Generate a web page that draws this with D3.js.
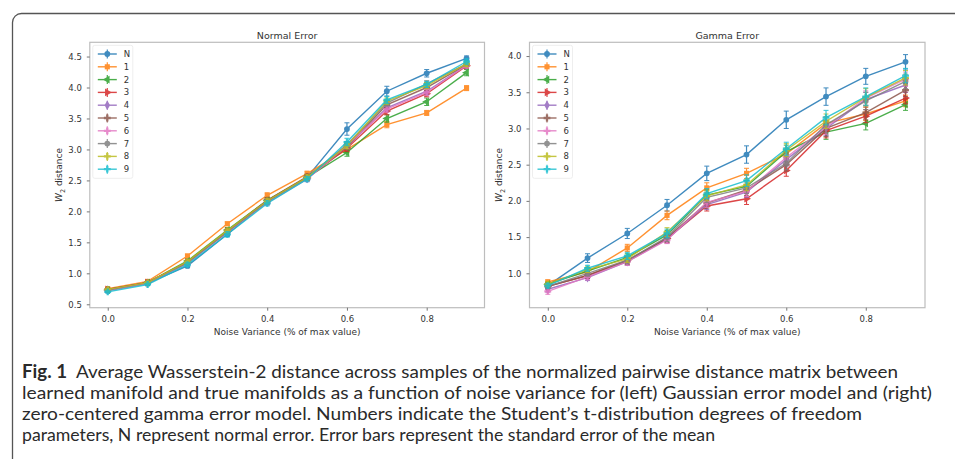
<!DOCTYPE html>
<html>
<head>
<meta charset="utf-8">
<script src="https://cdn.jsdelivr.net/npm/d3@7"></script>
<style>
  body { margin: 0; background: #fff; }
  svg { display: block; }
  .tick-label { font-family: "DejaVu Sans", sans-serif; font-size: 8.5px; fill: #333; }
  .panel-title { font-family: "DejaVu Sans", sans-serif; font-size: 9.5px; fill: #333; }
  .axis-label { font-family: "DejaVu Sans", sans-serif; font-size: 9px; fill: #333; }
  .caption { font-family: Lato, "Open Sans", sans-serif; font-size: 18px; fill: #2a2a2a; }
</style>
</head>
<body>
<div id="figure"></div>
<script>
// =============================
// Data
// =============================
const noiseLevels = [0.0, 0.1, 0.2, 0.3, 0.4, 0.5, 0.6, 0.7, 0.8, 0.9];
const seriesNames = ["N", "1", "2", "3", "4", "5", "6", "7", "8", "9"];
const xTicks = [0.0, 0.2, 0.4, 0.6, 0.8];
const normalYTicks = [0.5, 1.0, 1.5, 2.0, 2.5, 3.0, 3.5, 4.0, 4.5];
const gammaYTicks = [1.0, 1.5, 2.0, 2.5, 3.0, 3.5, 4.0];

// Normal error: mean W2 distance per series (rows follow seriesNames)
const normalMeans = [
    [0.72, 0.84, 1.12, 1.63, 2.16, 2.55, 3.33, 3.94, 4.23, 4.47], // N
    [0.75, 0.87, 1.28, 1.80, 2.26, 2.61, 3.00, 3.40, 3.59, 3.99], // 1
    [0.73, 0.85, 1.20, 1.70, 2.18, 2.55, 2.95, 3.50, 3.77, 4.24], // 2
    [0.74, 0.85, 1.18, 1.68, 2.17, 2.54, 3.02, 3.62, 3.90, 4.35], // 3
    [0.73, 0.84, 1.17, 1.67, 2.15, 2.53, 3.05, 3.67, 3.94, 4.36], // 4
    [0.74, 0.85, 1.18, 1.68, 2.18, 2.56, 3.05, 3.72, 4.00, 4.37], // 5
    [0.72, 0.84, 1.16, 1.66, 2.14, 2.52, 3.07, 3.65, 3.92, 4.36], // 6
    [0.73, 0.85, 1.17, 1.67, 2.16, 2.54, 3.08, 3.75, 4.06, 4.38], // 7
    [0.74, 0.85, 1.19, 1.69, 2.17, 2.55, 3.06, 3.78, 4.03, 4.38], // 8
    [0.70, 0.82, 1.14, 1.63, 2.13, 2.52, 3.12, 3.80, 4.05, 4.42]  // 9
];
const normalErrors = [
    [0.02, 0.03, 0.03, 0.04, 0.05, 0.05, 0.10, 0.08, 0.06, 0.04],
    [0.02, 0.02, 0.03, 0.03, 0.04, 0.04, 0.05, 0.05, 0.04, 0.04],
    [0.02, 0.02, 0.03, 0.04, 0.04, 0.04, 0.06, 0.06, 0.06, 0.05],
    [0.02, 0.02, 0.03, 0.03, 0.04, 0.04, 0.05, 0.06, 0.05, 0.04],
    [0.02, 0.02, 0.03, 0.03, 0.04, 0.04, 0.05, 0.05, 0.05, 0.04],
    [0.02, 0.02, 0.03, 0.03, 0.04, 0.04, 0.05, 0.06, 0.05, 0.04],
    [0.02, 0.02, 0.03, 0.03, 0.04, 0.04, 0.05, 0.05, 0.05, 0.04],
    [0.02, 0.02, 0.03, 0.03, 0.04, 0.04, 0.05, 0.05, 0.05, 0.04],
    [0.02, 0.02, 0.03, 0.03, 0.04, 0.04, 0.05, 0.05, 0.05, 0.04],
    [0.02, 0.02, 0.03, 0.04, 0.04, 0.04, 0.06, 0.06, 0.05, 0.04]
];

// Gamma error: mean W2 distance per series (rows follow seriesNames)
const gammaMeans = [
    [0.83, 1.21, 1.55, 1.94, 2.38, 2.64, 3.12, 3.44, 3.72, 3.92], // N
    [0.88, 1.02, 1.35, 1.80, 2.18, 2.38, 2.65, 3.07, 3.20, 3.38], // 1
    [0.85, 1.03, 1.22, 1.53, 2.08, 2.20, 2.68, 2.95, 3.07, 3.33], // 2
    [0.82, 0.97, 1.18, 1.48, 1.93, 2.03, 2.42, 2.97, 3.17, 3.42], // 3
    [0.78, 0.94, 1.16, 1.47, 1.95, 2.12, 2.57, 3.00, 3.40, 3.60], // 4
    [0.82, 0.97, 1.17, 1.49, 1.97, 2.15, 2.50, 3.00, 3.22, 3.53], // 5
    [0.75, 0.95, 1.16, 1.46, 1.98, 2.13, 2.60, 3.02, 3.42, 3.68], // 6
    [0.82, 1.00, 1.18, 1.50, 2.05, 2.18, 2.52, 3.05, 3.38, 3.65], // 7
    [0.85, 1.05, 1.20, 1.57, 2.07, 2.22, 2.70, 3.10, 3.43, 3.70], // 8
    [0.83, 1.07, 1.24, 1.55, 2.10, 2.28, 2.72, 3.15, 3.44, 3.73]  // 9
];
const gammaErrors = [
    [0.04, 0.06, 0.07, 0.08, 0.10, 0.12, 0.12, 0.12, 0.11, 0.10],
    [0.03, 0.05, 0.05, 0.06, 0.07, 0.07, 0.08, 0.09, 0.09, 0.08],
    [0.03, 0.05, 0.05, 0.06, 0.07, 0.08, 0.09, 0.10, 0.09, 0.08],
    [0.03, 0.04, 0.05, 0.06, 0.07, 0.08, 0.08, 0.10, 0.09, 0.08],
    [0.04, 0.04, 0.05, 0.05, 0.07, 0.07, 0.09, 0.10, 0.10, 0.10],
    [0.03, 0.04, 0.05, 0.06, 0.07, 0.08, 0.09, 0.11, 0.10, 0.09],
    [0.04, 0.04, 0.05, 0.05, 0.07, 0.07, 0.09, 0.10, 0.10, 0.10],
    [0.03, 0.04, 0.05, 0.06, 0.07, 0.08, 0.09, 0.11, 0.12, 0.10],
    [0.03, 0.04, 0.05, 0.06, 0.07, 0.08, 0.09, 0.10, 0.12, 0.10],
    [0.03, 0.04, 0.05, 0.06, 0.07, 0.08, 0.09, 0.10, 0.12, 0.10]
];

const captionLines = [
    "Average Wasserstein-2 distance across samples of the normalized pairwise distance matrix between",
    "learned manifold and true manifolds as a function of noise variance for (left) Gaussian error model and (right)",
    "zero-centered gamma error model. Numbers indicate the Student\u2019s t-distribution degrees of freedom",
    "parameters, N represent normal error. Error bars represent the standard error of the mean"
];

// =============================
// Shared settings
// =============================
const width = 955;
const height = 459;
const colours = ["#1f77b4", "#ff7f0e", "#2ca02c", "#d62728", "#9467bd",
                 "#8c564b", "#e377c2", "#7f7f7f", "#bcbd22", "#17becf"];
const markerTypes = [d3.symbolCircle, d3.symbolSquare, d3.symbolTriangle, d3.symbolTriangle,
                     d3.symbolDiamond, d3.symbolCross, d3.symbolCross, d3.symbolCircle,
                     d3.symbolCross, d3.symbolCross];
const markerRotate = [0, 0, -90, 90, 0, 0, 0, 0, 0, 0];
const fmt = d3.format(".1f");

const svg = d3.select("#figure")
    .append("svg")
    .attr("width", width)
    .attr("height", height);

// Outer figure frame (cropped on the right and bottom)
svg.append("rect")
    .attr("x", 12.5)
    .attr("y", 13.5)
    .attr("width", 980)
    .attr("height", 480)
    .attr("rx", 9)
    .attr("fill", "none")
    .attr("stroke", "#555")
    .attr("stroke-width", 1.3);

// =============================
// Draw one panel
// =============================
const drawPanel = (p) => {
    const xScale = d3.scaleLinear().domain(p.xDomain).range(p.xRange);
    const yScale = d3.scaleLinear().domain(p.yDomain).range([307.7, 42.3]);
    const g = svg.append("g");

    // Axes box
    g.append("rect")
        .attr("x", xScale.range()[0])
        .attr("y", yScale.range()[1])
        .attr("width", xScale.range()[1] - xScale.range()[0])
        .attr("height", yScale.range()[0] - yScale.range()[1])
        .attr("fill", "none")
        .attr("stroke", "#bdbdbd")
        .attr("stroke-width", 1.2);

    // Bottom axis
    const bottomAxis = d3.axisBottom(xScale).tickValues(xTicks).tickFormat(fmt).tickSize(3).tickPadding(5);
    const xg = g.append("g")
        .attr("transform", `translate(0,${yScale.range()[0]})`)
        .call(bottomAxis);
    xg.select(".domain").remove();
    xg.selectAll(".tick line").attr("stroke", "#777");
    xg.selectAll(".tick text").attr("class", "tick-label");

    // Left axis
    const leftAxis = d3.axisLeft(yScale).tickValues(p.yTicks).tickFormat(fmt).tickSize(3).tickPadding(5);
    const yg = g.append("g")
        .attr("transform", `translate(${xScale.range()[0]},0)`)
        .call(leftAxis);
    yg.select(".domain").remove();
    yg.selectAll(".tick line").attr("stroke", "#777");
    yg.selectAll(".tick text").attr("class", "tick-label");

    const midX = (xScale.range()[0] + xScale.range()[1]) / 2;
    const midY = (yScale.range()[0] + yScale.range()[1]) / 2;

    // Title and axis labels
    g.append("text")
        .attr("class", "panel-title")
        .attr("x", midX)
        .attr("y", 38.5)
        .attr("text-anchor", "middle")
        .text(p.title);

    g.append("text")
        .attr("class", "axis-label")
        .attr("x", midX)
        .attr("y", 334.5)
        .attr("text-anchor", "middle")
        .text("Noise Variance (% of max value)");

    const yl = g.append("text")
        .attr("class", "axis-label")
        .attr("text-anchor", "middle")
        .attr("transform", `translate(${xScale.range()[0] - 27.5},${midY}) rotate(-90)`);
    yl.append("tspan").attr("font-style", "italic").text("W");
    yl.append("tspan").attr("font-size", "6.5px").attr("dy", 2.5).text("2");
    yl.append("tspan").attr("dy", -2.5).text(" distance");

    // Series
    const line = d3.line()
        .x((d, i) => xScale(noiseLevels[i]))
        .y(d => yScale(d));

    p.means.forEach((vals, s) => {
        const sg = g.append("g").attr("opacity", 0.85);
        const c = colours[s];

        sg.append("path")
            .attr("d", line(vals))
            .attr("fill", "none")
            .attr("stroke", c)
            .attr("stroke-width", 1.4);

        // Error bars
        const bars = sg.selectAll(".err")
            .data(vals.map((v, i) => ({ x: noiseLevels[i], v: v, e: p.errors[s][i] })))
            .join("g");
        bars.append("line")
            .attr("x1", d => xScale(d.x)).attr("x2", d => xScale(d.x))
            .attr("y1", d => yScale(d.v - d.e)).attr("y2", d => yScale(d.v + d.e))
            .attr("stroke", c).attr("stroke-width", 1.2);
        bars.append("line")
            .attr("x1", d => xScale(d.x) - 2.5).attr("x2", d => xScale(d.x) + 2.5)
            .attr("y1", d => yScale(d.v + d.e)).attr("y2", d => yScale(d.v + d.e))
            .attr("stroke", c).attr("stroke-width", 1);
        bars.append("line")
            .attr("x1", d => xScale(d.x) - 2.5).attr("x2", d => xScale(d.x) + 2.5)
            .attr("y1", d => yScale(d.v - d.e)).attr("y2", d => yScale(d.v - d.e))
            .attr("stroke", c).attr("stroke-width", 1);

        // Markers
        bars.append("path")
            .attr("d", d3.symbol().type(markerTypes[s]).size(26))
            .attr("transform", d => `translate(${xScale(d.x)},${yScale(d.v)}) rotate(${markerRotate[s]})`)
            .attr("fill", c);
    });

    // Legend
    const lg = g.append("g");
    lg.append("rect")
        .attr("x", xScale.range()[0] + 3)
        .attr("y", yScale.range()[1] + 3)
        .attr("width", 40)
        .attr("height", 133)
        .attr("rx", 2)
        .attr("fill", "#fff")
        .attr("fill-opacity", 0.8)
        .attr("stroke", "#eeeeee");

    seriesNames.forEach((name, s) => {
        const ly = 54 + s * 12.8;
        const lx = xScale.range()[0] + 8;
        const c = colours[s];
        const it = lg.append("g").attr("opacity", 0.85);
        it.append("line")
            .attr("x1", lx).attr("x2", lx + 19)
            .attr("y1", ly).attr("y2", ly)
            .attr("stroke", c).attr("stroke-width", 1.4);
        it.append("line")
            .attr("x1", lx + 9.5).attr("x2", lx + 9.5)
            .attr("y1", ly - 4.5).attr("y2", ly + 4.5)
            .attr("stroke", c).attr("stroke-width", 1.2);
        it.append("path")
            .attr("d", d3.symbol().type(markerTypes[s]).size(26))
            .attr("transform", `translate(${lx + 9.5},${ly}) rotate(${markerRotate[s]})`)
            .attr("fill", c);
        lg.append("text")
            .attr("class", "tick-label")
            .attr("x", lx + 26)
            .attr("y", ly + 3)
            .text(name);
    });
};

drawPanel({
    title: "Normal Error",
    xDomain: [-0.045, 0.945], xRange: [89.8, 484.5],
    yDomain: [0.445, 4.73], yTicks: normalYTicks,
    means: normalMeans, errors: normalErrors
});

drawPanel({
    title: "Gamma Error",
    xDomain: [-0.046, 0.949], xRange: [529.5, 925],
    yDomain: [0.525, 4.19], yTicks: gammaYTicks,
    means: gammaMeans, errors: gammaErrors
});

// =============================
// Caption
// =============================
svg.append("text")
    .attr("class", "caption")
    .attr("x", 22)
    .attr("y", 378)
    .attr("font-weight", "bold")
    .attr("textLength", 45)
    .attr("lengthAdjust", "spacingAndGlyphs")
    .text("Fig. 1");

const captionStarts = [76, 22, 22, 22];
const captionEnds = [898, 932, 862, 715];
captionLines.forEach((t, i) => {
    svg.append("text")
        .attr("class", "caption")
        .attr("x", captionStarts[i])
        .attr("y", 378 + i * 21)
        .attr("textLength", captionEnds[i] - captionStarts[i])
        .attr("lengthAdjust", "spacingAndGlyphs")
        .text(t);
});
</script>
</body>
</html>
